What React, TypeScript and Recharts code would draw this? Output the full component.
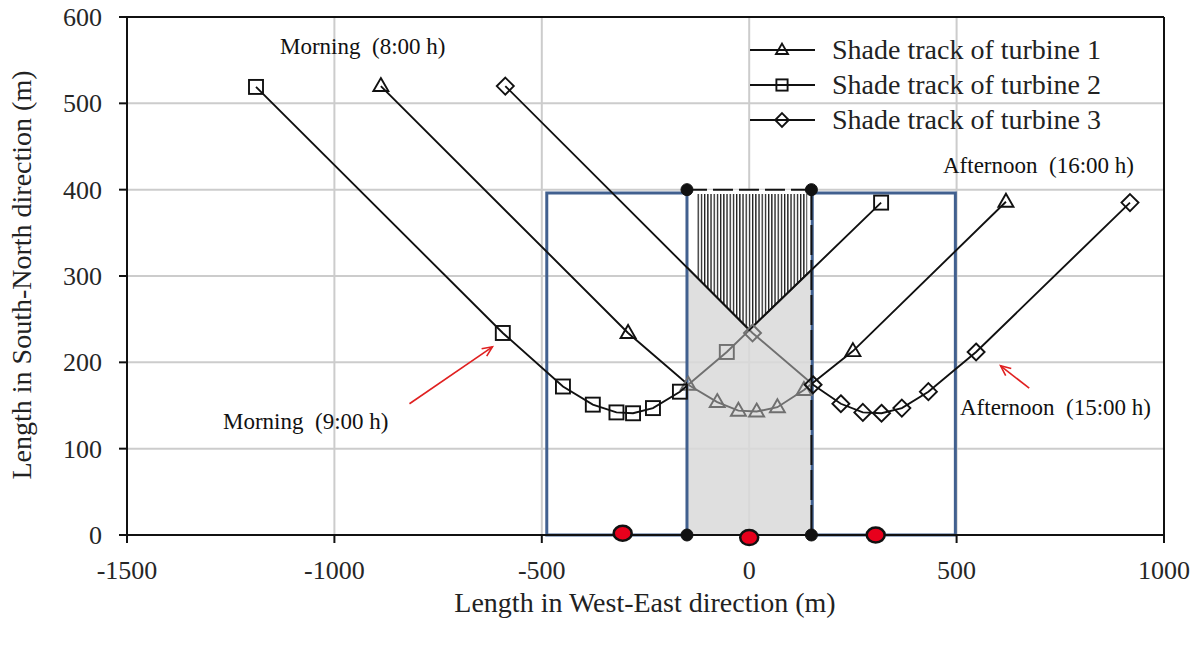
import React from 'react';
import {
  ComposedChart, XAxis, YAxis, CartesianGrid, Scatter, Area,
  ReferenceArea, ReferenceLine, ReferenceDot, Legend,
} from 'recharts';

const SERIF = '"Liberation Serif", "Times New Roman", serif';

const xTicks = [-1500, -1000, -500, 0, 500, 1000];
const yTicks = [0, 100, 200, 300, 400, 500, 600];

// shade tracks, morning (8:00 h) -> afternoon (16:00 h)
const turbine1X = [-888, -292, -147, -77, -26, 18, 68, 132, 250, 619];
const turbine1Y = [520, 234, 174, 154, 144, 143, 148, 168, 213, 386];
const turbine2X = [-1189, -594, -449, -377, -320, -280, -232, -167, -54, 318];
const turbine2Y = [519, 234, 172, 151, 142, 141, 147, 166, 212, 385];
const turbine3X = [-588, 8, 154, 221, 274, 319, 368, 432, 547, 918];
const turbine3Y = [520, 234, 174, 152, 142, 141, 147, 166, 212, 385];

// overlapping shade zone between the turbines
const zoneX = [-150, 0, 150];
const zoneV = [310, 237.5, 307];
const zoneTop = 400;
const hatchX = [-128, 0, 140];
const hatchLow = [299, 237.5, 302];
const hatchTop = 395;

// wind farm boxes
const leftBox = [-488, -150];
const rightBox = [152, 497];
const boxTop = 396;

// turbine sites
const siteX = [-305, 0, 305];
const siteY = [2, -3, 0];

const legendLabels = ['Shade track of turbine 1', 'Shade track of turbine 2', 'Shade track of turbine 3'];
const markerKinds = ['triangle', 'square', 'diamond'];

const notes = [
  { text: 'Morning  (8:00 h)', left: 280, top: 35 },
  { text: 'Morning  (9:00 h)', left: 223, top: 410 },
  { text: 'Afternoon  (16:00 h)', left: 943, top: 154 },
  { text: 'Afternoon  (15:00 h)', left: 960, top: 396 },
];

const arrows = [
  { from: { x: -819, y: 152 }, to: { x: -619, y: 218 } },
  { from: { x: 675, y: 170 }, to: { x: 606, y: 196 } },
];

const toPoints = (xs: number[], ys: number[]) => xs.map((x, i) => ({ x, y: ys[i] }));
const inZone = (x: number) => x >= zoneX[0] && x <= zoneX[zoneX.length - 1];

const marker = (kind: string, cx: number, cy: number, color: string, s = 1) => {
  if (kind === 'triangle') {
    return <path d={`M${cx},${cy - 8 * s}L${cx + 7.5 * s},${cy + 5 * s}L${cx - 7.5 * s},${cy + 5 * s}Z`} fill="none" stroke={color} strokeWidth={1.9} />;
  }
  if (kind === 'square') {
    return <rect x={cx - 7 * s} y={cy - 7 * s} width={14 * s} height={14 * s} fill="none" stroke={color} strokeWidth={1.9} />;
  }
  return <path d={`M${cx},${cy - 8.5 * s}L${cx + 8.5 * s},${cy}L${cx},${cy + 8.5 * s}L${cx - 8.5 * s},${cy}Z`} fill="none" stroke={color} strokeWidth={1.9} />;
};

const markerShape = (kind: string) => (p: any) => (
  <g>{marker(kind, p.cx, p.cy, inZone(p.payload.x) ? '#707070' : '#111')}</g>
);
const noShape = () => <g />;

const polyline = (pts: any[]) => 'M' + pts.map((p) => `${p.x},${p.y}`).join('L');

const blackLine = (props: any) => (
  <path d={polyline(props.points)} fill="none" stroke="#111" strokeWidth={1.9} clipPath="url(#outsideV)" />
);
const grayLine = (props: any) => (
  <path d={polyline(props.points)} fill="none" stroke="#707070" strokeWidth={1.9} clipPath="url(#belowV)" />
);

// the V edge of the hatched part, also defines the clip regions for the gray track parts
const vLine = (props: any) => {
  const pts = props.points;
  const first = pts[0];
  const last = pts[pts.length - 1];
  const below = `${polyline(pts)}L${last.x},${last.y + 5000}L${first.x},${first.y + 5000}Z`;
  return (
    <g>
      <clipPath id="belowV"><path d={below} /></clipPath>
      <clipPath id="outsideV"><path d={`M-5000,-5000H7000V7000H-5000Z${below}`} clipRule="evenodd" /></clipPath>
      <path d={polyline(pts)} fill="none" stroke="#111" strokeWidth={1.9} />
    </g>
  );
};

const arrowShape = (p: any) => {
  const { x1, y1, x2, y2 } = p;
  const a = Math.atan2(y2 - y1, x2 - x1);
  const h = 11;
  const w = 0.42;
  const head = `M${x2 - h * Math.cos(a - w)},${y2 - h * Math.sin(a - w)}L${x2},${y2}L${x2 - h * Math.cos(a + w)},${y2 - h * Math.sin(a + w)}`;
  return (
    <g>
      <line x1={x1} y1={y1} x2={x2} y2={y2} stroke="#e02020" strokeWidth={1.6} />
      <path d={head} fill="none" stroke="#e02020" strokeWidth={1.6} />
    </g>
  );
};

const XTick = (props: any) => (
  <text x={props.x} y={props.y + 36} textAnchor="middle" fontFamily={SERIF} fontSize={26} fill="#262626">
    {props.payload.value}
  </text>
);

const YTick = (props: any) => (
  <text x={props.x} y={props.y + 9} textAnchor="end" fontFamily={SERIF} fontSize={26} fill="#262626">
    {props.payload.value}
  </text>
);

const renderLegend = () => (
  <div>
    {legendLabels.map((label, i) => (
      <div key={label} style={{ display: 'flex', alignItems: 'center', height: 35 }}>
        <svg width={65} height={20} style={{ display: 'block' }}>
          <line x1={0} y1={10} x2={65} y2={10} stroke="#111" strokeWidth={1.9} />
          {marker(markerKinds[i], 32, 10, '#111', 0.8)}
        </svg>
        <span style={{ marginLeft: 17, fontFamily: SERIF, fontSize: 28, lineHeight: 1, color: '#222', whiteSpace: 'nowrap' }}>
          {label}
        </span>
      </div>
    ))}
  </div>
);

export default function App() {
  const t1 = toPoints(turbine1X, turbine1Y);
  const t2 = toPoints(turbine2X, turbine2Y);
  const t3 = toPoints(turbine3X, turbine3Y);
  const vEdge = toPoints(zoneX, zoneV);
  const grayBand = zoneX.map((x, i) => ({ x, band: [0, zoneV[i]] }));
  const whiteBand = zoneX.map((x, i) => ({ x, band: [zoneV[i], zoneTop] }));
  const hatchBand = hatchX.map((x, i) => ({ x, band: [hatchLow[i], hatchTop] }));

  return (
    <div style={{ position: 'absolute', left: 0, top: 0, width: 1200, height: 646, background: '#fff' }}>
      <ComposedChart width={1200} height={646} margin={{ top: 17, right: 36, left: 67, bottom: 71 }}>
        <defs>
          <pattern id="hatch" width={3.2} height={10} patternUnits="userSpaceOnUse">
            <rect width={3.2} height={10} fill="#fff" />
            <rect width={1.3} height={10} fill="#1a1a1a" />
          </pattern>
        </defs>
        <CartesianGrid stroke="#cccccc" strokeWidth={2} />
        <XAxis
          type="number" dataKey="x" domain={[-1500, 1000]} ticks={xTicks} interval={0}
          height={40} tickSize={8} tickMargin={0}
          axisLine={{ stroke: '#111', strokeWidth: 2 }} tickLine={{ stroke: '#111', strokeWidth: 2 }}
          tick={<XTick />}
        />
        <YAxis
          type="number" dataKey="y" domain={[0, 600]} ticks={yTicks} interval={0}
          width={60} tickSize={8} tickMargin={17}
          axisLine={{ stroke: '#111', strokeWidth: 2 }} tickLine={{ stroke: '#111', strokeWidth: 2 }}
          tick={<YTick />}
        />
        <ReferenceLine y={600} stroke="#111" strokeWidth={2} />
        <ReferenceLine x={1000} stroke="#111" strokeWidth={2} />

        <Area data={grayBand} dataKey="band" type="linear" stroke="none" fill="#d9d9d9" fillOpacity={0.85} isAnimationActive={false} />
        <Area data={whiteBand} dataKey="band" type="linear" stroke="none" fill="#fff" fillOpacity={1} isAnimationActive={false} />
        <Area data={hatchBand} dataKey="band" type="linear" stroke="none" fill="url(#hatch)" fillOpacity={1} isAnimationActive={false} />

        <ReferenceArea x1={leftBox[0]} x2={leftBox[1]} y1={0} y2={boxTop} fill="none" fillOpacity={0} stroke="#41608f" strokeWidth={3} ifOverflow="visible" />
        <ReferenceArea x1={rightBox[0]} x2={rightBox[1]} y1={0} y2={boxTop} fill="none" fillOpacity={0} stroke="#41608f" strokeWidth={3} ifOverflow="visible" />
        <ReferenceLine segment={[{ x: zoneX[0], y: zoneTop }, { x: zoneX[2], y: zoneTop }]} stroke="#111" strokeWidth={2} strokeDasharray="20 6" />
        <ReferenceLine segment={[{ x: zoneX[2], y: 0 }, { x: zoneX[2], y: zoneTop }]} stroke="#111" strokeWidth={2} strokeDasharray="30 5" />

        <Scatter data={t1} shape={noShape} line={grayLine} lineType="joint" isAnimationActive={false} legendType="none" />
        <Scatter data={t2} shape={noShape} line={grayLine} lineType="joint" isAnimationActive={false} legendType="none" />
        <Scatter data={t3} shape={noShape} line={grayLine} lineType="joint" isAnimationActive={false} legendType="none" />
        <Scatter data={vEdge} shape={noShape} line={vLine} lineType="joint" isAnimationActive={false} legendType="none" />
        <Scatter name={legendLabels[0]} data={t1} shape={markerShape('triangle')} line={blackLine} lineType="joint" isAnimationActive={false} />
        <Scatter name={legendLabels[1]} data={t2} shape={markerShape('square')} line={blackLine} lineType="joint" isAnimationActive={false} />
        <Scatter name={legendLabels[2]} data={t3} shape={markerShape('diamond')} line={blackLine} lineType="joint" isAnimationActive={false} />

        {[zoneX[0], zoneX[2]].map((x) => [0, zoneTop].map((y) => (
          <ReferenceDot key={`${x}-${y}`} x={x} y={y} r={6} fill="#111" stroke="#111" ifOverflow="visible" />
        )))}
        {siteX.map((x, i) => (
          <ReferenceDot key={`site-${x}`} x={x} y={siteY[i]} r={8} ifOverflow="visible"
            shape={(p: any) => <ellipse cx={p.cx} cy={p.cy} rx={9} ry={7.5} fill="#e8001c" stroke="#111" strokeWidth={2.5} />} />
        ))}
        {arrows.map((a, i) => (
          <ReferenceLine key={`arrow-${i}`} segment={[a.from, a.to]} shape={arrowShape} ifOverflow="visible" />
        ))}

        <Legend layout="vertical" align="center" verticalAlign="middle" content={renderLegend}
          wrapperStyle={{ left: 750, top: 32, width: 420, height: 110 }} />
      </ComposedChart>

      {notes.map((n) => (
        <div key={n.text} style={{
          position: 'absolute', left: n.left, top: n.top, fontFamily: SERIF, fontSize: 23, lineHeight: 1,
          whiteSpace: 'pre', color: '#111',
        }}>
          {n.text}
        </div>
      ))}
      <div style={{
        position: 'absolute', left: 645, top: 603, fontFamily: SERIF, fontSize: 28, lineHeight: 1, whiteSpace: 'nowrap',
        color: '#222', transform: 'translate(-50%, -50%)',
      }}>
        Length in West-East direction (m)
      </div>
      <div style={{
        position: 'absolute', left: 22, top: 275, fontFamily: SERIF, fontSize: 28, lineHeight: 1, whiteSpace: 'nowrap',
        color: '#222', transform: 'translate(-50%, -50%) rotate(-90deg)',
      }}>
        Length in South-North direction (m)
      </div>
    </div>
  );
}
